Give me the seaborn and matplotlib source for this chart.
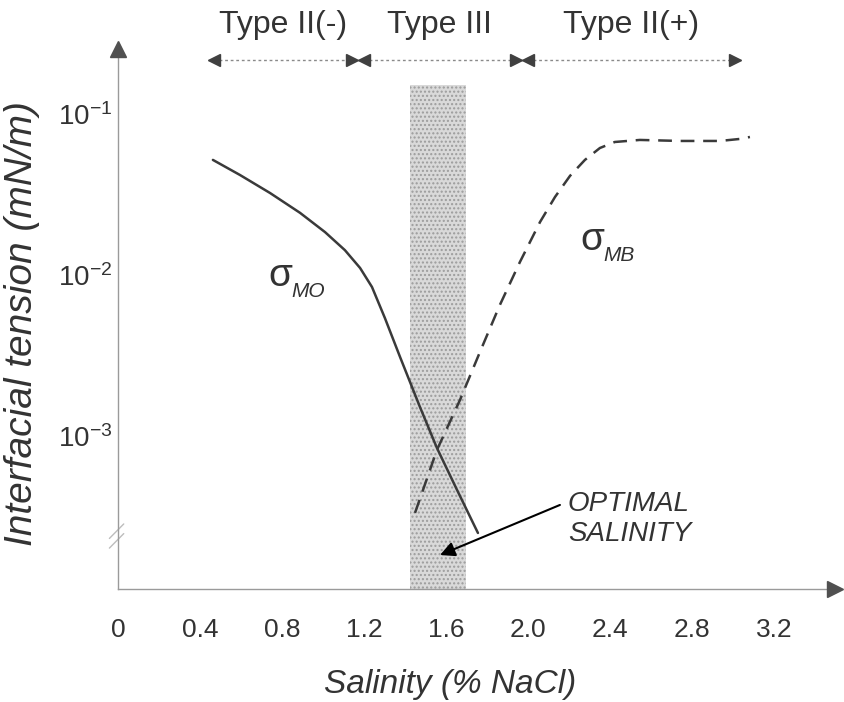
import numpy as np
import pandas as pd
import matplotlib
matplotlib.use("Agg")
import matplotlib.pyplot as plt
import matplotlib.transforms as mtransforms
import seaborn as sns

# Interfacial tension vs salinity (Winsor phase behaviour)
mo_salinity = [0.463, 0.595, 0.742, 0.888, 1.010, 1.107, 1.181, 1.239, 1.302, 1.376,
               1.473, 1.556, 1.654, 1.756]
mo_tension = [0.0469, 0.0378, 0.0292, 0.0220, 0.0167, 0.0129, 0.0100, 0.00762, 0.00489,
              0.00280, 0.00137, 0.000762, 0.000418, 0.000226]

mb_salinity = [1.449, 1.556, 1.668, 1.766, 1.863, 1.961, 2.059, 2.132, 2.205, 2.278,
               2.351, 2.424, 2.546, 2.742, 2.937, 3.034, 3.083]
mb_tension = [0.000301, 0.000741, 0.00151, 0.00301, 0.00589, 0.0109, 0.0193, 0.0276,
              0.0373, 0.0469, 0.0556, 0.0606, 0.0624, 0.0615, 0.0615, 0.0633, 0.0651]

# Optimal salinity window (shaded)
optimal_range = [1.424, 1.700]
optimal_top = 0.137

# Phase regions along the top
region_bounds = [0.44, 1.17, 1.97, 3.04]
region_names = ["Type II(-)", "Type III", "Type II(+)"]

x_ticks = [0, 0.4, 0.8, 1.2, 1.6, 2.0, 2.4, 2.8, 3.2]
x_tick_labels = ["0", "0.4", "0.8", "1.2", "1.6", "2.0", "2.4", "2.8", "3.2"]
y_ticks = [1e-1, 1e-2, 1e-3]
y_tick_labels = [r"$10^{-1}$", r"$10^{-2}$", r"$10^{-3}$"]

sns.set_style("white")
plt.rcParams["font.family"] = ["Liberation Sans", "DejaVu Sans"]
plt.rcParams["mathtext.fontset"] = "custom"
plt.rcParams["mathtext.rm"] = "Liberation Sans"
plt.rcParams["mathtext.it"] = "Liberation Sans:italic"

INK = "#3a3a3a"
TEXT = "#333333"
AXIS = "#9a9a9a"

fig = plt.figure(figsize=(8.45, 7.02), dpi=100)
ax = fig.add_axes([118 / 845, 113 / 702, 717 / 845, 540 / 702])
ax.set_yscale("log")
x_max = 3.498
y_min, y_max = 10 ** -3.994, 10 ** -0.640
ax.set_xlim(0, x_max)
ax.set_ylim(y_min, y_max)

# shaded optimal window
ax.fill_between(optimal_range, [y_min, y_min], [optimal_top, optimal_top],
                facecolor="#d9d9d9", edgecolor="#9c9c9c", hatch="....",
                linewidth=0, zorder=1)

df_mo = pd.DataFrame({"salinity": mo_salinity, "tension": mo_tension})
df_mb = pd.DataFrame({"salinity": mb_salinity, "tension": mb_tension})
sns.lineplot(data=df_mo, x="salinity", y="tension", ax=ax, color=INK,
             linewidth=1.8, estimator=None, sort=True, zorder=3)
sns.lineplot(data=df_mb, x="salinity", y="tension", ax=ax, color=INK,
             linewidth=1.8, estimator=None, sort=True, zorder=3,
             dashes=False, linestyle=(0, (5.5, 3.5)))

# axes styling
for side in ["top", "right"]:
    ax.spines[side].set_visible(False)
for side in ["left", "bottom"]:
    ax.spines[side].set_color(AXIS)
    ax.spines[side].set_linewidth(1.0)
ax.plot([0], [y_max], marker="^", color="#505050", markersize=11, clip_on=False, zorder=5)
ax.plot([x_max], [y_min], marker=">", color="#505050", markersize=11, clip_on=False, zorder=5)

ax.set_xticks(x_ticks)
ax.set_xticklabels(x_tick_labels)
ax.set_yticks(y_ticks)
ax.set_yticklabels(y_tick_labels)
ax.minorticks_off()
ax.tick_params(axis="x", direction="in", length=6, width=0.8, color=AXIS,
               labelsize=19, labelcolor=TEXT, pad=21)
ax.tick_params(axis="y", direction="in", length=9, width=0.8, color=AXIS,
               labelsize=20, labelcolor=TEXT, pad=4)
shift = mtransforms.ScaledTranslation(0, -7 / 100, fig.dpi_scale_trans)
for lab in ax.get_yticklabels():
    lab.set_transform(lab.get_transform() + shift)

ax.set_xlabel("Salinity (% NaCl)", fontsize=24, fontstyle="italic", color=TEXT)
ax.xaxis.set_label_coords((450 - 118) / 717, -(685 - 589) / 540, transform=ax.transAxes)
ax.xaxis.label.set_va("center")
ax.set_ylabel("Interfacial tension (mN/m)", fontsize=28, fontstyle="italic", color=TEXT)
ax.yaxis.set_label_coords(-(118 - 22) / 717, (589 - 324) / 540, transform=ax.transAxes)
ax.yaxis.label.set_va("center")

# axis break mark on the y axis
brk = mtransforms.blended_transform_factory(ax.transAxes, ax.transData)
for dy in (0.0, 0.06):
    ax.plot([-0.012, 0.008], [10 ** (-3.74 + dy), 10 ** (-3.65 + dy)], color="#bdbdbd",
            linewidth=1.0, transform=brk, clip_on=False)

# phase region arrows
y_arrow = 10 ** -0.708
y_label = 10 ** -0.49
for (a, b), name in zip(zip(region_bounds[:-1], region_bounds[1:]), region_names):
    ax.plot([a, b], [y_arrow, y_arrow], color="#8a8a8a", linewidth=1.0,
            linestyle=(0, (2, 2)), clip_on=False, zorder=4)
    ax.plot([a + 0.03], [y_arrow], marker="<", color="#404040", markersize=9, clip_on=False, zorder=5)
    ax.plot([b - 0.03], [y_arrow], marker=">", color="#404040", markersize=9, clip_on=False, zorder=5)
    ax.text((a + b) / 2, y_label, name, ha="center", va="center", fontsize=23,
            color=TEXT, clip_on=False)

# curve labels
def sigma_label(x, y, sub):
    ax.text(x, y, "σ", fontsize=28, ha="left", va="center", color=TEXT)
    ax.annotate(sub, xy=(x, y), xytext=(17, -11), textcoords="offset points",
                fontsize=15, fontstyle="italic", ha="left", va="center", color=TEXT)

sigma_label(0.732, 10 ** -2.05, "MO")
sigma_label(2.254, 10 ** -1.826, "MB")

# optimal salinity annotation
ax.text(2.195, 10 ** -3.56, "OPTIMAL\nSALINITY", fontsize=20, fontstyle="italic",
        ha="left", va="center", color=TEXT, linespacing=1.2)
ax.annotate("", xy=(1.571, 10 ** -3.783), xytext=(2.156, 10 ** -3.472),
            arrowprops=dict(arrowstyle="-|>", color="black", lw=1.5,
                            mutation_scale=22, shrinkA=0, shrinkB=0), zorder=6)

fig.savefig("out.png", dpi=100)
